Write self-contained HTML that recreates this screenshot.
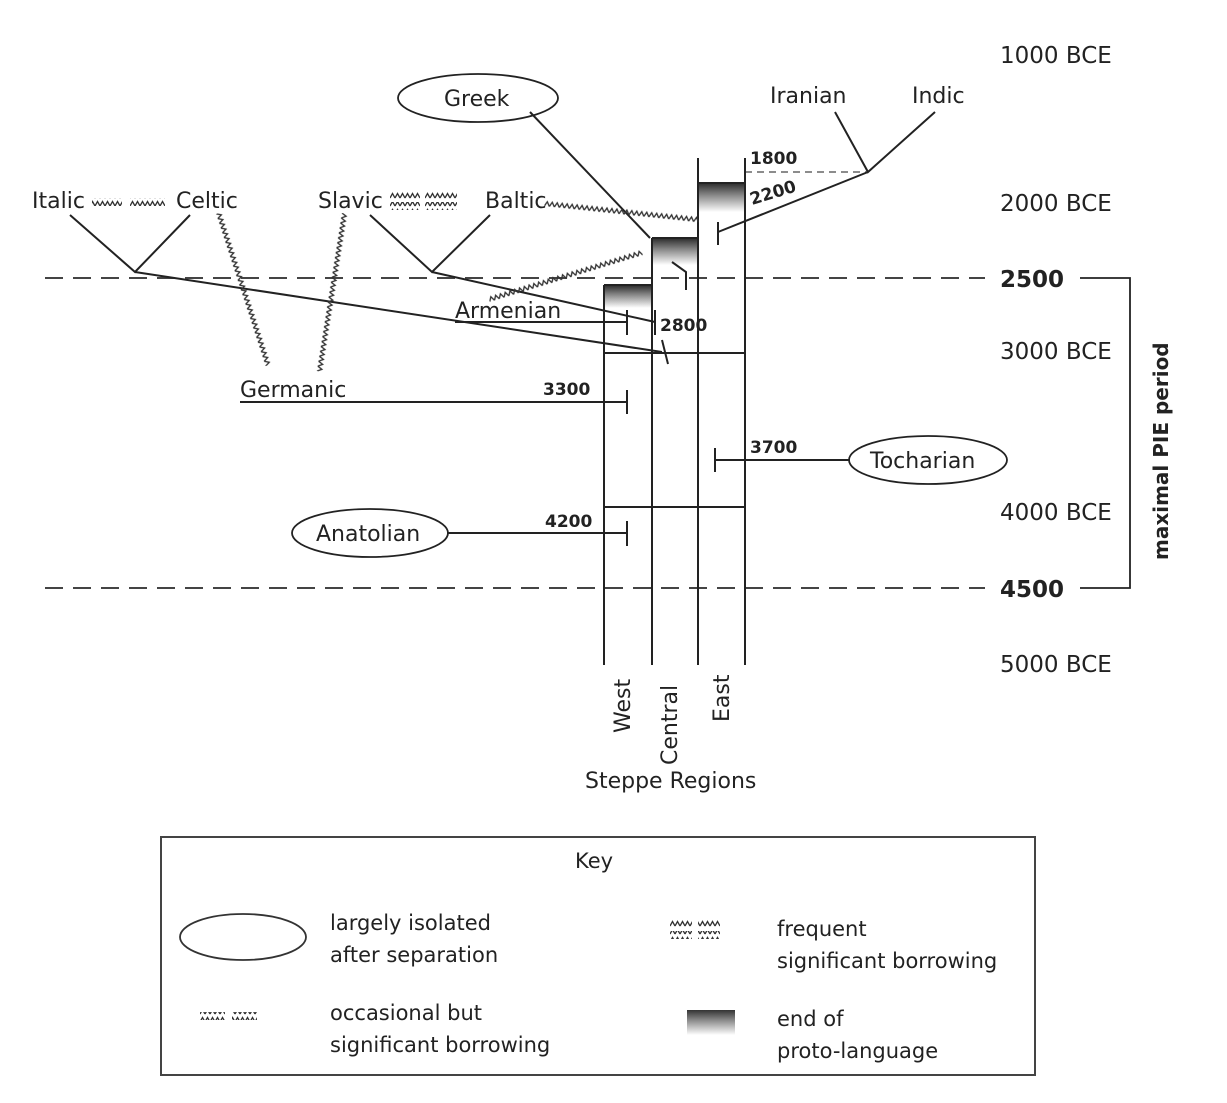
<!DOCTYPE html>
<html><head><meta charset="utf-8"><style>
body{margin:0;background:#fff}
svg{display:block;font-family:"DejaVu Sans","Liberation Sans",sans-serif}
</style></head><body>
<svg width="1227" height="1103" viewBox="0 0 1227 1103" xmlns="http://www.w3.org/2000/svg">
<defs>
<pattern id="zz" width="5" height="8" patternUnits="userSpaceOnUse">
<path d="M0,6 L2.5,1.5 L5,6" fill="none" stroke="#333" stroke-width="1.3"/>
</pattern>
<linearGradient id="gr" x1="0" y1="0" x2="0" y2="1">
<stop offset="0" stop-color="#333"/><stop offset="0.4" stop-color="#888"/><stop offset="1" stop-color="#fff"/>
</linearGradient>
</defs>
<g stroke="#222" stroke-width="2" fill="none">
<!-- dashed lines -->
<line x1="45" y1="278" x2="985" y2="278" stroke-dasharray="18,10" stroke="#444"/>
<line x1="45" y1="588" x2="985" y2="588" stroke-dasharray="18,10" stroke="#444"/>
<line x1="745" y1="172" x2="868" y2="172" stroke-dasharray="7,5" stroke="#666" stroke-width="1.5"/>
<!-- bracket -->
<path d="M1080,278 H1130 V588 H1080" stroke-width="1.8"/>
<!-- columns -->
<line x1="604" y1="285" x2="604" y2="665"/>
<line x1="652" y1="238" x2="652" y2="665"/>
<line x1="698" y1="158" x2="698" y2="665"/>
<line x1="745" y1="158" x2="745" y2="665"/>
<line x1="604" y1="285" x2="652" y2="285"/>
<line x1="652" y1="238" x2="698" y2="238"/>
<line x1="698" y1="183" x2="745" y2="183"/>
<line x1="604" y1="353" x2="745" y2="353"/>
<line x1="604" y1="507" x2="745" y2="507"/>
</g>
<rect x="605" y="286" width="46" height="22" fill="url(#gr)"/>
<rect x="653" y="239" width="44" height="26" fill="url(#gr)"/>
<rect x="699" y="184" width="45" height="28" fill="url(#gr)"/>
<g stroke="#222" stroke-width="2" fill="none">
<!-- Italic/Celtic V -->
<path d="M70,215 L135,272 L190,215"/>
<path d="M135,272 L662,352"/>
<!-- Slavic/Baltic V -->
<path d="M370,215 L432,272 L490,215"/>
<path d="M432,272 L655,322"/>
<line x1="662" y1="340" x2="668" y2="364"/>
<line x1="655" y1="310" x2="655" y2="335"/>
<!-- Armenian -->
<line x1="455" y1="322" x2="627" y2="322"/>
<line x1="627" y1="310" x2="627" y2="335"/>
<!-- Germanic -->
<line x1="240" y1="402" x2="627" y2="402"/>
<line x1="627" y1="390" x2="627" y2="414"/>
<!-- Anatolian -->
<line x1="447" y1="533" x2="627" y2="533"/>
<line x1="627" y1="521" x2="627" y2="546"/>
<!-- Tocharian -->
<line x1="715" y1="460" x2="850" y2="460"/>
<line x1="715" y1="448" x2="715" y2="472"/>
<!-- Greek -->
<line x1="530" y1="112" x2="650" y2="238"/>
<path d="M672,262 L686,272 L686,290"/>
<!-- Iranian/Indic -->
<path d="M835,112 L868,172 L935,112"/>
<line x1="868" y1="172" x2="718" y2="232"/>
<line x1="718" y1="222" x2="718" y2="245"/>
<!-- ellipses -->
<ellipse cx="478" cy="98" rx="80" ry="24" stroke-width="1.8"/>
<ellipse cx="370" cy="533" rx="78" ry="24" stroke-width="1.8"/>
<ellipse cx="928" cy="460" rx="79" ry="24" stroke-width="1.8"/>
</g>
<!-- wiggles -->
<g fill="url(#zz)">
<rect x="92" y="198" width="30" height="8"/>
<rect x="130" y="198" width="35" height="8"/>
<rect x="390" y="191" width="30" height="8"/><rect x="425" y="191" width="32" height="8"/>
<rect x="390" y="202" width="30" height="8"/><rect x="425" y="202" width="32" height="8"/>
<rect x="0" y="0" width="155" height="8" transform="translate(545,200) rotate(6)"/>
<rect x="0" y="0" width="160" height="8" transform="translate(488,296) rotate(-17)"/>
<rect x="0" y="0" width="160" height="8" transform="translate(222,212) rotate(72)"/>
<rect x="0" y="0" width="160" height="8" transform="translate(348,214) rotate(99)"/>
<rect x="200" y="1012" width="25" height="8"/><rect x="232" y="1012" width="25" height="8"/>
<rect x="670" y="920" width="22" height="8"/><rect x="698" y="920" width="22" height="8"/>
<rect x="670" y="931" width="22" height="8"/><rect x="698" y="931" width="22" height="8"/>
</g>
<!-- labels -->
<g font-size="22" fill="#222">
<text x="32" y="208">Italic</text>
<text x="176" y="208">Celtic</text>
<text x="318" y="208">Slavic</text>
<text x="485" y="208">Baltic</text>
<text x="455" y="318">Armenian</text>
<text x="240" y="397">Germanic</text>
<text x="444" y="106">Greek</text>
<text x="770" y="103">Iranian</text>
<text x="912" y="103">Indic</text>
<text x="316" y="541">Anatolian</text>
<text x="870" y="468">Tocharian</text>
<text x="1000" y="63" font-size="23">1000 BCE</text>
<text x="1000" y="211" font-size="23">2000 BCE</text>
<text x="1000" y="287" font-size="23" font-weight="bold">2500</text>
<text x="1000" y="359" font-size="23">3000 BCE</text>
<text x="1000" y="520" font-size="23">4000 BCE</text>
<text x="1000" y="597" font-size="23" font-weight="bold">4500</text>
<text x="1000" y="672" font-size="23">5000 BCE</text>
<text transform="translate(1168,560) rotate(-90)" font-size="20" font-weight="bold">maximal PIE period</text>
<text transform="translate(630,733) rotate(-90)">West</text>
<text transform="translate(677,765) rotate(-90)">Central</text>
<text transform="translate(729,722) rotate(-90)">East</text>
<text x="585" y="788">Steppe Regions</text>
</g>
<g font-size="17" font-weight="bold" fill="#222">
<text x="750" y="164">1800</text>
<text x="752" y="205" transform="rotate(-17,752,205)">2200</text>
<text x="660" y="331">2800</text>
<text x="543" y="395">3300</text>
<text x="750" y="453">3700</text>
<text x="545" y="527">4200</text>
</g>
<!-- key -->
<rect x="161" y="837" width="874" height="238" fill="none" stroke="#444" stroke-width="2"/>
<ellipse cx="243" cy="937" rx="63" ry="23" fill="none" stroke="#333" stroke-width="1.8"/>
<rect x="687" y="1010" width="48" height="25" fill="url(#gr)"/>
<g font-size="21" fill="#222">
<text x="575" y="868">Key</text>
<text x="330" y="930">largely isolated</text>
<text x="330" y="962">after separation</text>
<text x="330" y="1020">occasional but</text>
<text x="330" y="1052">significant borrowing</text>
<text x="777" y="936">frequent</text>
<text x="777" y="968">significant borrowing</text>
<text x="777" y="1026">end of</text>
<text x="777" y="1058">proto-language</text>
</g>
</svg>
</body></html>
